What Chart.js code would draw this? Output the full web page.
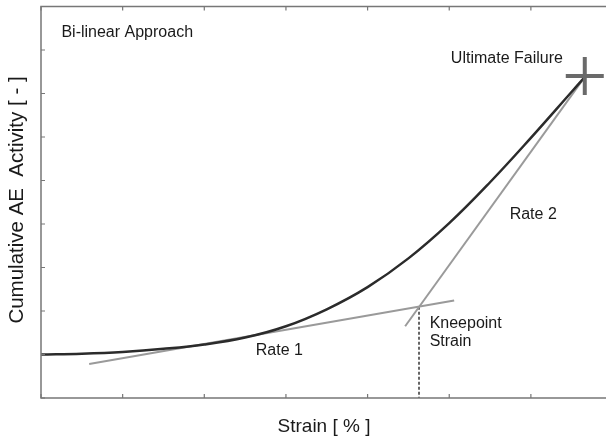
<!DOCTYPE html>
<html>
<head>
<meta charset="utf-8">
<script src="https://cdn.jsdelivr.net/npm/chart.js@4"></script>
<style>
  html, body { margin: 0; padding: 0; background: #fff; }
  #wrap { width: 606px; height: 438px; }
</style>
</head>
<body>
<div id="wrap"><canvas id="chart"></canvas></div>
<script>
/* ===== Data ===== */
// cumulative AE activity curve (strain in tick units)
const strainX   = [0, 0.5, 1, 1.5, 2, 2.5, 3, 3.5, 4, 4.5, 5, 5.5, 6, 6.5, 6.66];
const activityY = [1.00, 1.02, 1.06, 1.13, 1.23, 1.39, 1.65, 2.04, 2.55, 3.21, 4.02, 4.96, 5.98, 7.04, 7.38];

// rate lines (start/end)
const rate1X = [0.59, 5.06];
const rate1Y = [0.78, 2.24];
const rate2X = [4.46, 6.63];
const rate2Y = [1.65, 7.30];

// kneepoint and ultimate failure
const kneeX = [4.63, 4.63];
const kneeY = [2.10, 0];
const failX = [6.66];
const failY = [7.40];

// axis tick positions (no labels)
const xTicks = [0, 1, 2, 3, 4, 5, 6];
const yTicks = [0, 1, 2, 3, 4, 5, 6, 7, 8, 9];

// annotation texts
const notes = [
    {text: 'Bi-linear Approach', x: 0.25, y: 8.39},
    {text: 'Ultimate Failure',   x: 5.02, y: 7.80},
    {text: 'Rate 2',             x: 5.74, y: 4.21},
    {text: 'Rate 1',             x: 2.63, y: 1.08},
    {text: 'Kneepoint',          x: 4.76, y: 1.70},
    {text: 'Strain',             x: 4.76, y: 1.29}
];

const toPts = (xs, ys) => xs.map((x, i) => ({x: x, y: ys[i]}));

/* ===== Axes, ticks, texts ===== */
const decorations = {
    id: 'decorations',
    afterDraw(chart){
        const ctx = chart.ctx;
        const xs = chart.scales.x, ys = chart.scales.y;
        const a = chart.chartArea;
        ctx.save();
        ctx.strokeStyle = '#777';
        ctx.lineWidth = 1.5;
        ctx.beginPath();
        ctx.moveTo(a.right + 2, a.top); ctx.lineTo(a.left, a.top);
        ctx.lineTo(a.left, a.bottom); ctx.lineTo(a.right + 2, a.bottom);
        ctx.stroke();

        ctx.lineWidth = 1.2;
        ctx.beginPath();
        xTicks.forEach(v => {
            const px = xs.getPixelForValue(v);
            ctx.moveTo(px, a.bottom); ctx.lineTo(px, a.bottom - 4);
            ctx.moveTo(px, a.top); ctx.lineTo(px, a.top + 4);
        });
        yTicks.forEach(v => {
            const py = ys.getPixelForValue(v);
            ctx.moveTo(a.left, py); ctx.lineTo(a.left + 4, py);
        });
        ctx.stroke();

        ctx.fillStyle = '#1a1a1a';
        ctx.font = '16px "Liberation Sans", Arial, sans-serif';
        ctx.textBaseline = 'middle';
        ctx.textAlign = 'left';
        notes.forEach(n => {
            ctx.fillText(n.text, xs.getPixelForValue(n.x), ys.getPixelForValue(n.y));
        });

        ctx.font = '19px "Liberation Sans", Arial, sans-serif';
        ctx.textAlign = 'center';
        ctx.fillText('Strain [ % ]', 324, 427);
        ctx.font = '20.5px "Liberation Sans", Arial, sans-serif';
        ctx.translate(17, 200);
        ctx.rotate(-Math.PI / 2);
        ctx.fillText('Cumulative AE  Activity [ - ]', 0, 0);
        ctx.restore();
    }
};

/* ===== Chart ===== */
new Chart(document.getElementById('chart'), {
    type: 'scatter',
    data: {
        datasets: [
            {
                label: 'AE activity',
                data: toPts(strainX, activityY),
                showLine: true,
                borderColor: '#2b2b2b',
                borderWidth: 2.5,
                pointRadius: 0,
                tension: 0.4,
                order: 1
            },
            {
                label: 'Rate 1',
                data: toPts(rate1X, rate1Y),
                showLine: true,
                borderColor: '#9a9a9a',
                borderWidth: 2,
                pointRadius: 0,
                order: 2
            },
            {
                label: 'Rate 2',
                data: toPts(rate2X, rate2Y),
                showLine: true,
                borderColor: '#9a9a9a',
                borderWidth: 2,
                pointRadius: 0,
                order: 2
            },
            {
                label: 'Kneepoint strain',
                data: toPts(kneeX, kneeY),
                showLine: true,
                borderColor: '#666',
                borderWidth: 2,
                borderDash: [3, 2],
                pointRadius: 0,
                order: 3
            },
            {
                label: 'Ultimate failure',
                data: toPts(failX, failY),
                pointStyle: 'cross',
                pointRadius: 19,
                pointBorderWidth: 4,
                pointBorderColor: '#6a6a6a',
                order: 0
            }
        ]
    },
    options: {
        responsive: true,
        maintainAspectRatio: false,
        animation: false,
        layout: { autoPadding: false, padding: { left: 41, top: 6.5, right: 0, bottom: 40 } },
        plugins: { legend: { display: false }, tooltip: { enabled: false } },
        scales: {
            x: { type: 'linear', display: false, min: 0, max: 6.92 },
            y: { type: 'linear', display: false, min: 0, max: 9 }
        }
    },
    plugins: [decorations]
});
</script>
</body>
</html>
